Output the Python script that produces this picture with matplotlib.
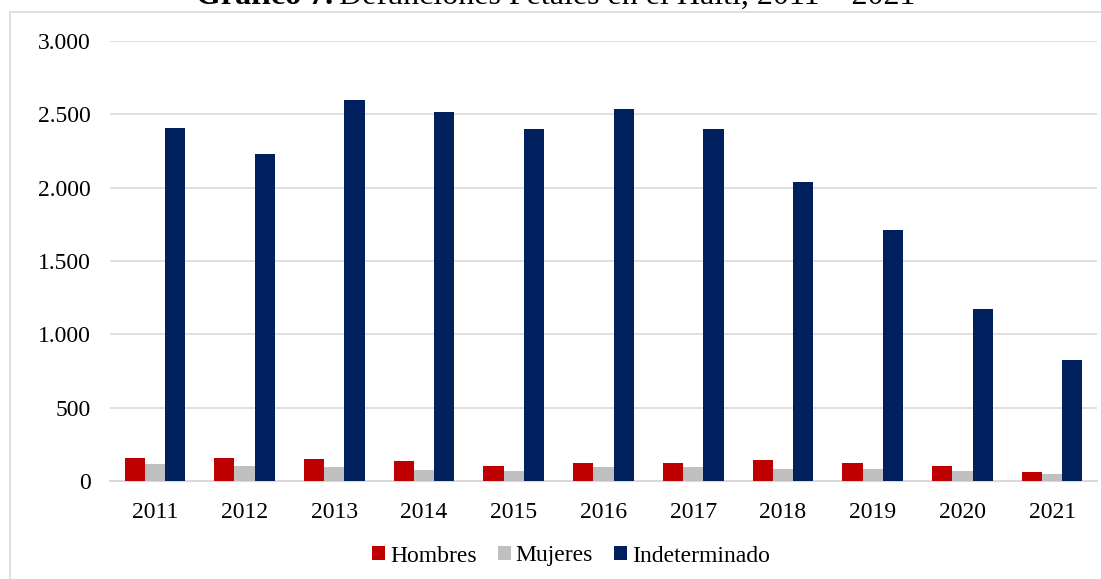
import matplotlib
matplotlib.use("Agg")
import matplotlib.pyplot as plt
import numpy as np
from matplotlib.ticker import FuncFormatter
from matplotlib.patches import Rectangle

years = ["2011", "2012", "2013", "2014", "2015", "2016", "2017", "2018", "2019", "2020", "2021"]
hombres = [155, 159, 150, 136, 104, 125, 125, 145, 125, 100, 63]
mujeres = [118, 100, 95, 77, 70, 98, 95, 82, 80, 70, 50]
indeterminado = [2410, 2230, 2600, 2515, 2400, 2535, 2400, 2040, 1710, 1170, 825]
series_names = ["Hombres", "Mujeres", "Indeterminado"]
colors = ["#C00000", "#BFBFBF", "#002060"]

plt.rcParams['font.family'] = ['Liberation Serif', 'DejaVu Serif']

W, H = 1101, 579
fig = plt.figure(figsize=(W/100, H/100), dpi=100)
ax = fig.add_axes([110/W, 1 - 481/H, (1097-110)/W, (481-41)/H])

# outer chart border
fig.patches.append(Rectangle((10/W, -0.1), 1.2, 1 - 12/H + 0.1, transform=fig.transFigure,
                             fill=False, edgecolor="#D9D9D9", linewidth=1.2, zorder=0))

x = np.arange(len(years))
bw = 0.225
for i, (vals, name, c) in enumerate(zip([hombres, mujeres, indeterminado], series_names, colors)):
    ax.bar(x + (i - 1) * bw, vals, width=bw, color=c, label=name, zorder=3)

ax.set_xlim(-0.5, len(years) - 0.5)
ax.set_ylim(0, 3000)
ax.set_yticks(np.arange(0, 3001, 500))
ax.yaxis.set_major_formatter(FuncFormatter(lambda v, p: f"{int(v):,}".replace(",", ".")))
ax.set_xticks(x)
ax.set_xticklabels(years)
ax.tick_params(axis='both', length=0, labelsize=17, colors="#000000")
ax.tick_params(axis='y', pad=14)
ax.tick_params(axis='x', pad=15)
ax.grid(axis='y', color="#D9D9D9", linewidth=1.2, zorder=0)
for s in ["top", "right", "left"]:
    ax.spines[s].set_visible(False)
ax.spines["bottom"].set_color("#D9D9D9")
ax.spines["bottom"].set_linewidth(1.5)

handles, labels = ax.get_legend_handles_labels()
fig.legend(handles, labels, loc='center', bbox_to_anchor=(571/W, 1 - 556/H), ncol=3,
           frameon=False, fontsize=17, handlelength=0.55, handleheight=0.55,
           handletextpad=0.2, columnspacing=0.9)

# title (partially cut at top, as in the reference)
r = fig.canvas.get_renderer()
ty = 1 - 4/H
t1 = fig.text(196/W, ty, "Gráfico 7.", fontsize=23, fontweight='bold', va='baseline', ha='left')
bb = t1.get_window_extent(renderer=r)
fig.text((bb.x1 + 6)/W, ty, "Defunciones Fetales en el Haití, 2011 – 2021", fontsize=23,
         va='baseline', ha='left')

fig.savefig("out.png", dpi=100)
